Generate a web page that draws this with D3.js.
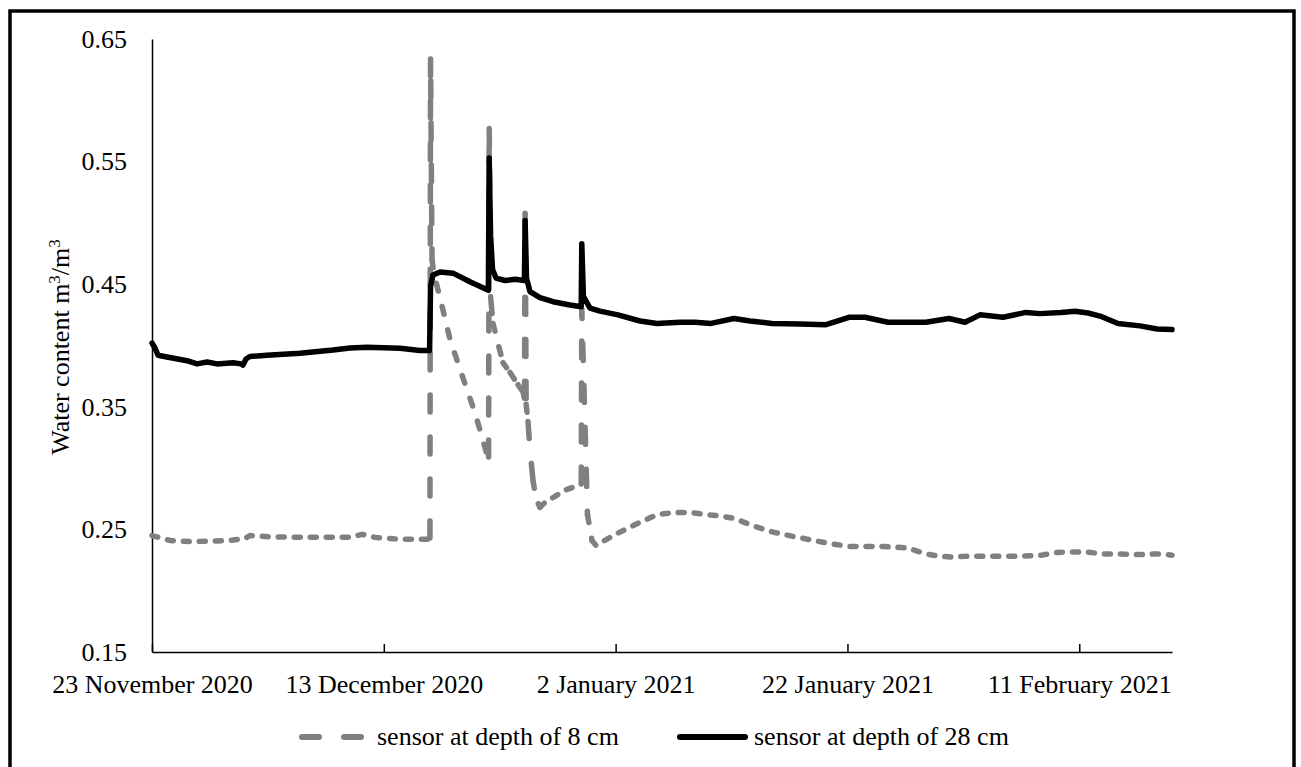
<!DOCTYPE html>
<html>
<head>
<meta charset="utf-8">
<script src="https://cdn.jsdelivr.net/npm/d3@7"></script>
<style>
  html, body { margin: 0; padding: 0; background: #fff; }
  svg { display: block; }
  svg text { font-family: "Liberation Serif", "Tinos", "Times New Roman", Times, "DejaVu Serif", serif; }
</style>
</head>
<body>
<svg id="chart" width="1301" height="767"></svg>
<script>
// Time span of the record (UTC)
const startDate = Date.UTC(2020, 10, 23);
const endDate = Date.UTC(2021, 1, 19);

// Axis ticks
const xTickDates = ["2020-11-23", "2020-12-13", "2021-01-02", "2021-01-22", "2021-02-11"];
const xTickLabels = ["23 November 2020", "13 December 2020", "2 January 2021", "22 January 2021", "11 February 2021"];
const yTicks = [0.15, 0.25, 0.35, 0.45, 0.55, 0.65];

const seriesNames = ["sensor at depth of 8 cm", "sensor at depth of 28 cm"];

// Sensor at 8 cm: days since 23 Nov 2020 and volumetric water content (m3/m3)
const days8 = [0.00, 1.55, 3.28, 5.00, 6.73, 8.02, 8.45, 10.18, 12.77, 15.36, 17.08, 18.12, 19.24, 21.40, 23.81, 23.98,
  24.03, 24.16, 24.33, 24.85, 25.71, 26.74, 27.87, 28.90, 29.04,
  29.09, 29.21, 29.42, 29.76, 30.28, 30.89, 31.58, 32.01, 32.14,
  32.19, 32.28, 32.44, 32.61, 32.87, 33.13, 33.47, 33.90, 34.77, 35.63, 36.49, 37.03,
  37.08, 37.57, 37.96, 38.30, 40.20, 41.93, 43.57, 44.86, 46.24, 47.88, 49.00, 50.21,
  51.85, 53.49, 55.47, 58.15, 60.13, 61.94, 63.15, 65.14, 66.78, 67.98, 69.11, 70.14, 72.12,
  74.45, 76.78, 77.90, 78.77, 80.75, 82.05, 83.34, 85.24, 86.71, 88.00];
const water8 = [0.245, 0.241, 0.240, 0.2405, 0.241, 0.2425, 0.245, 0.244, 0.2435, 0.2435, 0.2435, 0.246, 0.2435, 0.242, 0.242, 0.243,
  0.635, 0.470, 0.458, 0.439, 0.405, 0.376, 0.345, 0.311, 0.309,
  0.580, 0.440, 0.418, 0.405, 0.386, 0.378, 0.368, 0.362, 0.357,
  0.518, 0.352, 0.338, 0.315, 0.290, 0.275, 0.268, 0.272, 0.277, 0.282, 0.285, 0.287,
  0.430, 0.262, 0.241, 0.237, 0.247, 0.255, 0.262, 0.2635, 0.264, 0.262, 0.261, 0.259,
  0.253, 0.248, 0.244, 0.239, 0.236, 0.236, 0.236, 0.235, 0.230, 0.228, 0.2275, 0.228, 0.228,
  0.228, 0.229, 0.231, 0.2315, 0.2315, 0.230, 0.230, 0.2295, 0.230, 0.229];

// Sensor at 28 cm
const days28 = [0.00, 0.26, 0.52, 1.29, 3.02, 3.88, 4.75, 5.61, 6.99, 7.68, 7.85, 8.11, 8.45, 9.92, 12.77, 15.62,
  17.08, 18.55, 21.40, 23.12, 23.95, 24.03, 24.24, 24.85, 25.97, 27.43, 29.02,
  29.09, 29.21, 29.38, 29.68, 30.45, 31.32, 32.13, 32.19, 32.31, 32.61, 33.47, 34.60, 36.06, 37.03,
  37.08, 37.22, 37.79, 38.65, 40.20, 42.10, 43.57, 45.55, 46.85, 48.23, 50.21, 51.59, 53.49, 55.91,
  58.15, 60.13, 61.51, 63.50, 66.78, 68.76, 70.14, 71.43, 73.42, 75.40, 76.61, 78.42, 79.63, 80.75,
  81.79, 83.34, 85.24, 86.71, 88.00];
const water28 = [0.402, 0.398, 0.392, 0.3906, 0.3876, 0.385, 0.3865, 0.385, 0.386, 0.385, 0.384, 0.389, 0.391, 0.392, 0.3936, 0.3963,
  0.398, 0.3985, 0.3977, 0.396, 0.396, 0.448, 0.4575, 0.460, 0.459, 0.452, 0.445,
  0.553, 0.490, 0.462, 0.455, 0.453, 0.454, 0.453, 0.502, 0.455, 0.444, 0.439, 0.4357, 0.433, 0.4316,
  0.483, 0.440, 0.4305, 0.428, 0.425, 0.420, 0.418, 0.419, 0.419, 0.418, 0.422, 0.420, 0.418, 0.4175,
  0.417, 0.423, 0.423, 0.419, 0.419, 0.422, 0.419, 0.425, 0.423, 0.427, 0.426, 0.427, 0.428, 0.4265,
  0.424, 0.418, 0.416, 0.4135, 0.413];

const DAY = 864e5;
const toPoints = (days, vals) => days.map((d, i) => ({ t: new Date(startDate + d * DAY), v: vals[i] }));
const pts8 = toPoints(days8, water8);
const pts28 = toPoints(days28, water28);

const svg = d3.select("#chart");
const FONT = 26;

// Outer frame
svg.append("rect")
  .attr("x", 10).attr("y", 11).attr("width", 1284).attr("height", 790)
  .attr("fill", "none").attr("stroke", "#000").attr("stroke-width", 3.5);

const x = d3.scaleUtc().domain([startDate, endDate]).range([152, 1172]);
const y = d3.scaleLinear().domain([0.15, 0.65]).range([652, 39]);

// X axis (ticks point up into the plot)
const xAxis = d3.axisBottom(x)
  .tickValues(xTickDates.map(s => new Date(s + "T00:00:00Z")))
  .tickSizeInner(-8).tickSizeOuter(0)
  .tickFormat((d, i) => xTickLabels[i]);
const gx = svg.append("g").attr("transform", "translate(0,652)").call(xAxis)
  .attr("font-family", null).attr("font-size", null);
gx.select(".domain").attr("stroke", "#000").attr("stroke-width", 1.5);
gx.selectAll(".tick line").attr("stroke", "#000").attr("stroke-width", 1.5);
gx.selectAll(".tick text")
  .attr("y", 41).attr("dy", null)
  .attr("fill", "#000").style("font-size", FONT + "px");

// Y axis (no tick marks)
const yAxis = d3.axisLeft(y).tickValues(yTicks).tickSize(0).tickPadding(25).tickFormat(d3.format(".2f"));
const gy = svg.append("g").attr("transform", "translate(152,0)").call(yAxis)
  .attr("font-family", null).attr("font-size", null);
gy.select(".domain").attr("stroke", "#000").attr("stroke-width", 1.5);
gy.selectAll(".tick text")
  .attr("dy", "0.32em")
  .attr("fill", "#000").style("font-size", FONT + "px");

// Y axis title
const yTitle = svg.append("text")
  .attr("transform", "translate(69,347) rotate(-90)")
  .attr("text-anchor", "middle")
  .style("font-size", FONT + "px").attr("fill", "#000");
yTitle.append("tspan").text("Water content m");
yTitle.append("tspan").attr("baseline-shift", "super").style("font-size", "17px").text("3");
yTitle.append("tspan").text("/m");
yTitle.append("tspan").attr("baseline-shift", "super").style("font-size", "17px").text("3");

// 8 cm series: dashed grey; dash rhythm depends on how steep each stretch is
const dashByKind = { steep: "17,25", slope: "8,16", flat: "6,10" };
function kindOf(p, q) {
  const dx = Math.abs(x(q.t) - x(p.t));
  const dy = Math.abs(y(q.v) - y(p.v));
  const s = dy / Math.max(dx, 0.01);
  return s > 10 ? "steep" : (s > 1.5 ? "slope" : "flat");
}
const runs = [];
for (let i = 1; i < pts8.length; i++) {
  const k = kindOf(pts8[i - 1], pts8[i]);
  const last = runs[runs.length - 1];
  if (last && last.kind === k) last.pts.push(pts8[i]);
  else runs.push({ kind: k, pts: [pts8[i - 1], pts8[i]] });
}
const line = d3.line().x(d => x(d.t)).y(d => y(d.v));
svg.append("g").selectAll("path").data(runs).join("path")
  .attr("d", r => line(r.pts))
  .attr("fill", "none")
  .attr("stroke", "#808080")
  .attr("stroke-width", 5.5)
  .attr("stroke-linecap", "round")
  .attr("stroke-linejoin", "round")
  .attr("stroke-dasharray", r => dashByKind[r.kind]);

// 28 cm series: solid black
svg.append("path")
  .datum(pts28)
  .attr("d", line)
  .attr("fill", "none")
  .attr("stroke", "#000")
  .attr("stroke-width", 5.5)
  .attr("stroke-linecap", "round")
  .attr("stroke-linejoin", "round");

// Legend
const legend = svg.append("g");
legend.append("line")
  .attr("x1", 302).attr("x2", 371).attr("y1", 737).attr("y2", 737)
  .attr("stroke", "#808080").attr("stroke-width", 6)
  .attr("stroke-linecap", "round").attr("stroke-dasharray", "17,25");
legend.append("text").attr("x", 377).attr("y", 745)
  .style("font-size", FONT + "px").attr("fill", "#000").text(seriesNames[0]);
legend.append("line")
  .attr("x1", 680).attr("x2", 745).attr("y1", 737).attr("y2", 737)
  .attr("stroke", "#000").attr("stroke-width", 6).attr("stroke-linecap", "round");
legend.append("text").attr("x", 754).attr("y", 745)
  .style("font-size", FONT + "px").attr("fill", "#000").text(seriesNames[1]);
</script>
</body>
</html>
